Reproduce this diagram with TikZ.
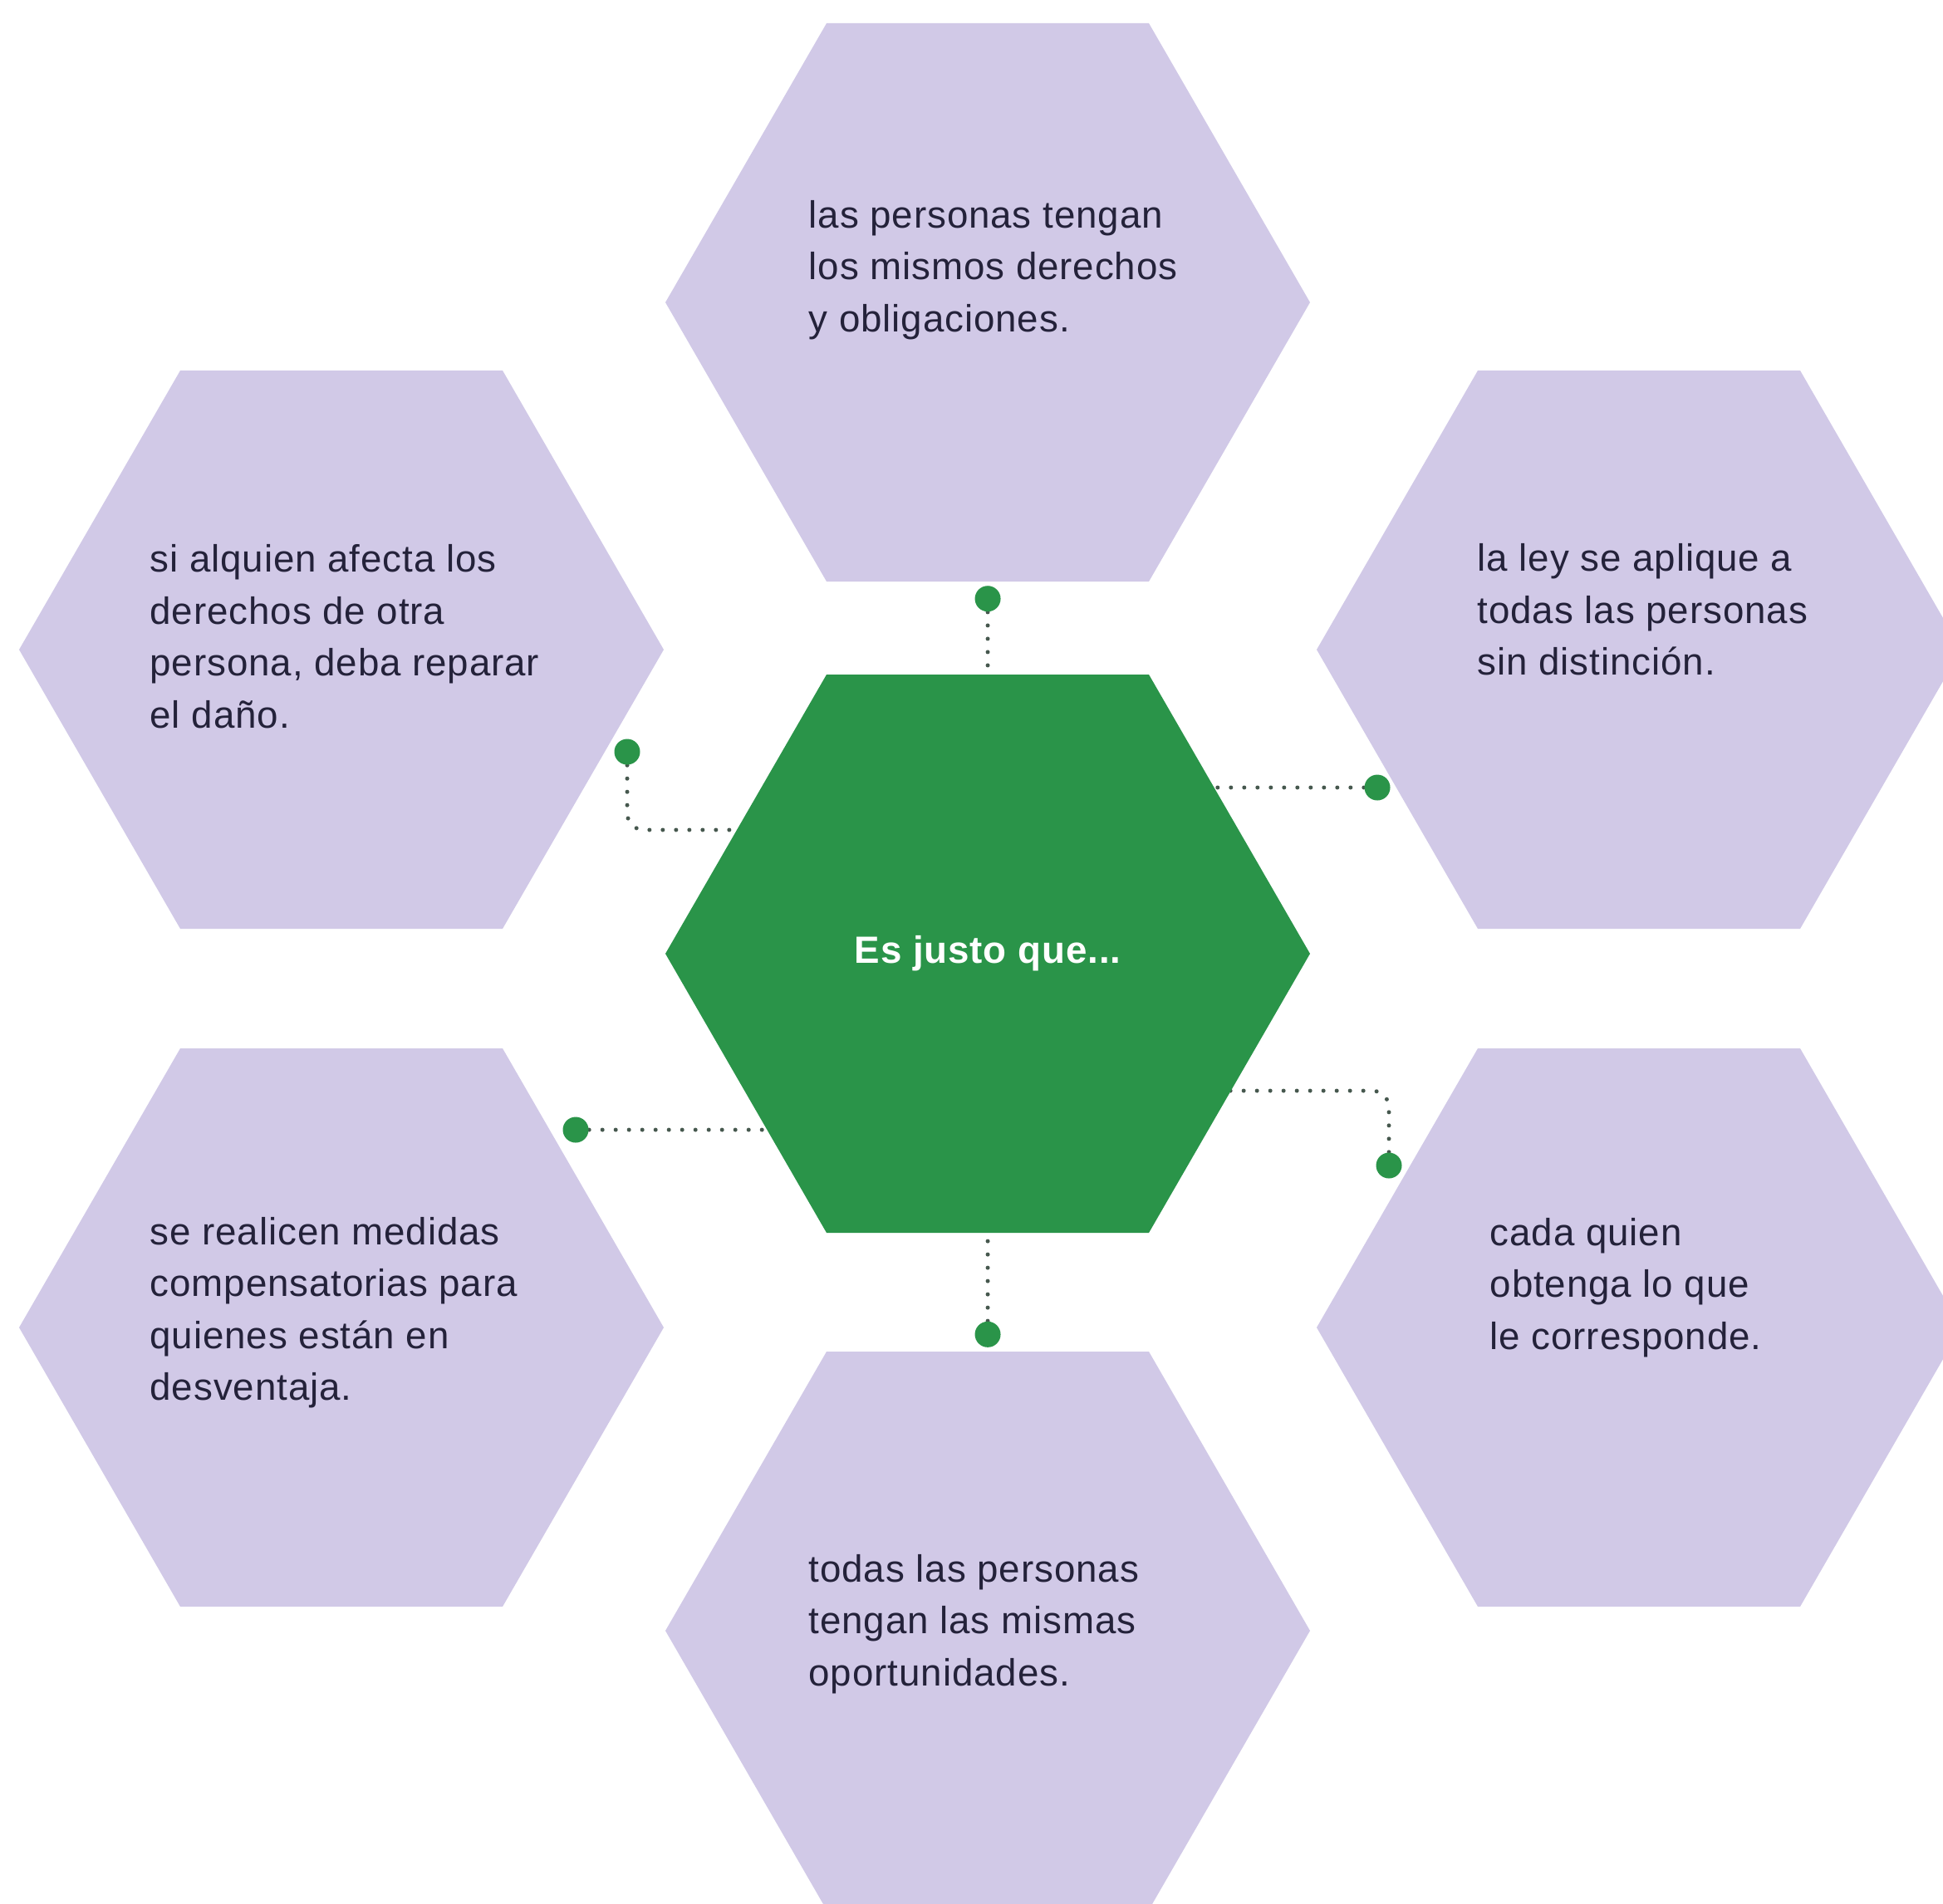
\documentclass[tikz,border=0pt]{standalone}
\usepackage{fontspec}
\setmainfont{Liberation Sans}[LetterSpace=2]
\usepackage{tikz}
\usepackage{xcolor}
\usetikzlibrary{shapes,positioning,calc,backgrounds}

\definecolor{lila}{HTML}{D1C9E7}
\definecolor{verde}{HTML}{2A9449}
\definecolor{testo}{HTML}{24223A}
\definecolor{punti}{HTML}{46584E}

\begin{document}
\begin{tikzpicture}[node distance=1cm, every node/.style={font=\fontsize{13}{17.8}\selectfont},
	hexa/.style={regular polygon, regular polygon sides=6, minimum size=7.76cm, inner sep=0pt, outer sep=0pt, fill=lila},
	txt/.style={anchor=west, align=left, inner sep=0pt, text=testo},
	pin/.style={circle, fill=verde, minimum size=0.31cm, inner sep=0pt},
	dotline/.style={draw=punti, line width=0.05cm, dash pattern=on 0pt off 0.16cm, line cap=round}]
				\useasboundingbox (0,0) rectangle (23.39,-22.91);
				
				\node[hexa, fill=verde, text=white, font=\fontsize{13}{17.8}\selectfont\bfseries] (cen) at (11.89,-11.48) {Es justo que...};
				\node[hexa] (hT) at (11.89,-3.64) {};
				\node[hexa] (hTL) at (4.11,-7.82) {};
				\node[hexa] (hTR) at (19.73,-7.82) {};
				\node[hexa] (hBL) at (4.11,-15.98) {};
				\node[hexa] (hBR) at (19.73,-15.98) {};
				\node[hexa] (hB) at (11.89,-19.63) {};
				
				\node[txt] (tT) at ($(hT)+(-2.16,0.39)$) {las personas tengan\\los mismos derechos\\y obligaciones.};
				\node[txt] (tTL) at ($(hTL)+(-2.31,0.16)$) {si alquien afecta los\\derechos de otra\\persona, deba reparar\\el daño.};
				\node[txt] (tTR) at ($(hTR)+(-1.95,0.48)$) {la ley se aplique a\\todas las personas\\sin distinción.};
				\node[txt] (tBL) at ($(hBL)+(-2.31,0.18)$) {se realicen medidas\\compensatorias para\\quienes están en\\desventaja.};
				\node[txt] (tBR) at ($(hBR)+(-1.80,0.48)$) {cada quien\\obtenga lo que\\le corresponde.};
				\node[txt] (tB) at ($(hB)+(-2.16,0.08)$) {todas las personas\\tengan las mismas\\oportunidades.};
				
				\node[pin, above=0.75cm of cen] (pT) {};
				\node[pin, below=1.06cm of cen] (pB) {};
				\node[pin] (pTR) at (16.58,-9.48) {};
				\node[pin] (pTL) at (7.55,-9.05) {};
				\node[pin] (pBL) at (6.93,-13.60) {};
				\node[pin] (pBR) at (16.72,-14.03) {};
				
				\begin{scope}[on background layer]
					\draw[dotline] (pT) -- (cen);
					\draw[dotline] (pB) -- (cen);
					\draw[dotline] (pTR) -- (pTR -| cen);
					\draw[dotline] (pBL) -- (pBL -| cen);
					\draw[dotline, rounded corners=2mm] (pTL) |- ([yshift=1.49cm]cen.center);
					\draw[dotline, rounded corners=2mm] (pBR) |- ([yshift=-1.65cm]cen.center);
				\end{scope}
			\end{tikzpicture}
\end{document}
